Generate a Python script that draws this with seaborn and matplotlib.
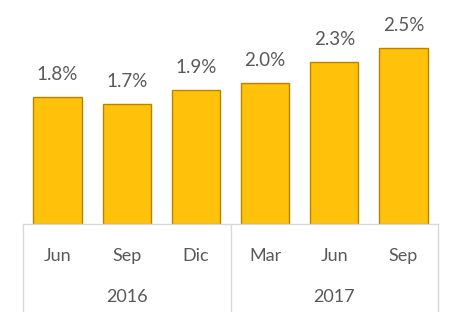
import matplotlib
matplotlib.use("Agg")
import matplotlib.pyplot as plt
import matplotlib.transforms as mtransforms
import pandas as pd
import seaborn as sns

# data
months = ["Jun", "Sep", "Dic", "Mar", "Jun", "Sep"]
years = ["2016", "2017"]
year_spans = [(0, 2), (3, 5)]
rates = [1.8, 1.7, 1.9, 2.0, 2.3, 2.5]

BAR_COLOR = "#FFC10A"
EDGE_COLOR = "#B88400"
TEXT_COLOR = "#595959"
GRID_COLOR = "#D9D9D9"

sns.set_theme(style="white")
plt.rcParams["font.family"] = ["Lato", "DejaVu Sans"]

df = pd.DataFrame({"slot": range(len(months)), "rate": rates})

fig = plt.figure(figsize=(4.57, 3.12), dpi=100)
ax = fig.add_axes([23 / 457, 88 / 312, 415 / 457, 224 / 312])

sns.barplot(data=df, x="slot", y="rate", color=BAR_COLOR, width=0.7,
            edgecolor=EDGE_COLOR, linewidth=1.0, saturation=1, ax=ax)

ax.set_xlim(-0.5, len(months) - 0.5)
ax.set_ylim(0, 3.18)
ax.set_xlabel("")
ax.set_ylabel("")
ax.set_yticks([])
ax.set_xticks(range(len(months)))
ax.set_xticklabels(months, color=TEXT_COLOR, fontsize=13)
ax.tick_params(axis="x", length=0, pad=17)

for side in ["top", "left", "right"]:
    ax.spines[side].set_visible(False)
ax.spines["bottom"].set_color(GRID_COLOR)
ax.spines["bottom"].set_linewidth(1.0)

for i, v in enumerate(rates):
    ax.annotate(f"{v:.1f}%", (i, v), xytext=(0, 10), textcoords="offset points",
                ha="center", va="bottom", fontsize=13.5, color=TEXT_COLOR)

# category table lines and year labels below the axis
trans = mtransforms.blended_transform_factory(ax.transData, ax.transAxes)
bottom = -88 / 224
for xpos in [-0.5, 2.5, 5.5]:
    ax.plot([xpos, xpos], [0, bottom], color=GRID_COLOR, lw=1.0,
            transform=trans, clip_on=False)
for year, (a, b) in zip(years, year_spans):
    ax.text((a + b) / 2, -73 / 224, year, transform=trans, ha="center",
            va="center", fontsize=13, color=TEXT_COLOR)

fig.savefig("out.png", dpi=100)
